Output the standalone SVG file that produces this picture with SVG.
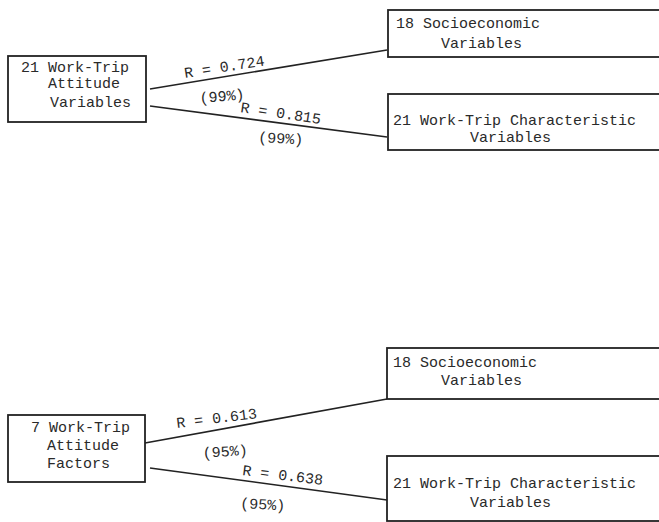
<svg xmlns="http://www.w3.org/2000/svg" width="659" height="522" viewBox="0 0 659 522">
<style>
.box{fill:none;stroke:#222;stroke-width:1.8}
.con{fill:none;stroke:#222;stroke-width:1.6}
text{font-family:"Liberation Mono","DejaVu Sans Mono",monospace;font-size:15px;fill:#2a2a2a}
</style>
<rect width="659" height="522" fill="#ffffff"/>
<g id="top-attitude">
<rect class="box" x="8" y="56" width="138" height="66"/>
<text x="21" y="72">21 Work-Trip</text>
<text x="48" y="88">Attitude</text>
<text x="50" y="107">Variables</text>
</g>
<g id="top-socio">
<rect class="box" x="388" y="10" width="300" height="47"/>
<text x="396" y="28">18 Socioeconomic</text>
<text x="441" y="48">Variables</text>
</g>
<g id="top-char">
<rect class="box" x="388" y="94" width="300" height="56"/>
<text x="393" y="125">21 Work-Trip Characteristic</text>
<text x="470" y="142">Variables</text>
</g>
<g id="bot-attitude">
<rect class="box" x="8" y="415" width="137" height="67"/>
<text x="31" y="432">7 Work-Trip</text>
<text x="47" y="450">Attitude</text>
<text x="47" y="468">Factors</text>
</g>
<g id="bot-socio">
<rect class="box" x="387" y="348" width="300" height="51"/>
<text x="393" y="367">18 Socioeconomic</text>
<text x="441" y="385">Variables</text>
</g>
<g id="bot-char">
<rect class="box" x="387" y="456" width="300" height="65"/>
<text x="393" y="488">21 Work-Trip Characteristic</text>
<text x="470" y="507">Variables</text>
</g>
<g id="connectors">
<line class="con" x1="150" y1="89" x2="387" y2="50"/>
<line class="con" x1="150" y1="106" x2="387" y2="137"/>
<line class="con" x1="145" y1="443" x2="387" y2="399"/>
<line class="con" x1="150" y1="468" x2="387" y2="500"/>
<text transform="translate(185,78) rotate(-9)">R = 0.724</text>
<text transform="translate(200,103) rotate(-5)">(99%)</text>
<text transform="translate(240,112) rotate(8.5)">R = 0.815</text>
<text transform="translate(258,142) rotate(3)">(99%)</text>
<text transform="translate(177,428) rotate(-7)">R = 0.613</text>
<text transform="translate(203,458) rotate(-4)">(95%)</text>
<text transform="translate(242,475) rotate(7)">R = 0.638</text>
<text transform="translate(240,508) rotate(3)">(95%)</text>
</g>
</svg>
